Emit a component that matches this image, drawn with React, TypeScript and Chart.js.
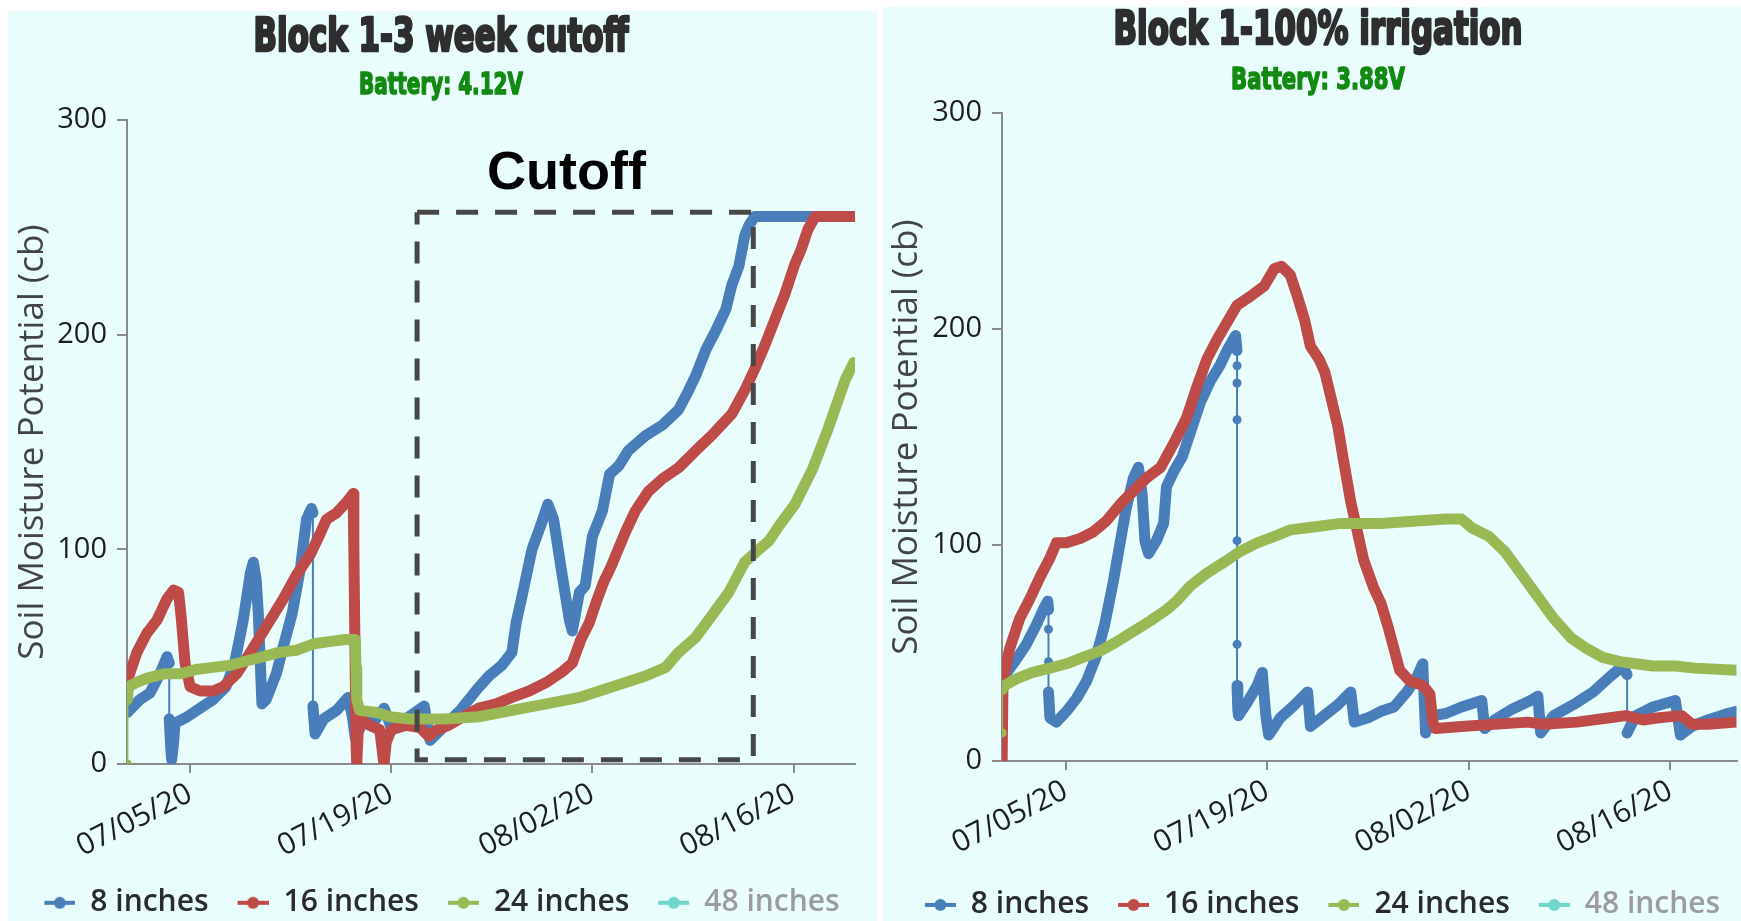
import React, { useEffect, useRef } from 'react';
import { Chart, registerables } from 'chart.js';

Chart.register(...registerables);

type Pt = [number, number];

// ---------- shared labels ----------
const SERIES_NAMES = ['8 inches', '16 inches', '24 inches', '48 inches'];
const SERIES_COLORS = ['#4a7ebb', '#be4b48', '#98b954', '#6fd6ca'];
const X_TICK_DAYS = [4, 18, 32, 46]; // days after 07/01/20
const Y_TITLE = 'Soil Moisture Potential (cb)';

// ---------- left chart: Block 1-3 week cutoff ----------
const leftTitle = 'Block 1-3 week cutoff';
const leftBattery = 'Battery: 4.12V';

const leftBlue: Pt[] = [
  [-0.36, 24], [0.5, 30], [1.2, 33], [1.9, 42], [2.4, 50], [2.55, 47], [2.55, 21], [2.65, 8], [2.72, 2],
  [2.85, 10], [2.95, 19], [3.8, 22], [4.7, 26], [5.6, 30], [6.5, 36], [7.1, 47], [7.7, 67], [8.2, 89],
  [8.4, 94], [8.6, 86], [8.75, 70], [8.9, 45], [9.0, 28], [9.3, 30], [10.0, 42], [10.5, 55], [11.1, 70],
  [11.7, 92], [12.1, 114], [12.45, 119], [12.55, 117], [12.55, 27], [12.7, 14], [13.3, 21], [14.2, 25],
  [15.0, 31], [15.3, 22], [15.5, 12], [16.2, 22], [16.6, 18], [17.5, 26], [18.0, 17], [19.0, 21],
  [20.3, 27], [20.7, 11], [21.6, 17], [22.8, 25], [24.0, 35], [24.8, 41], [25.7, 46], [26.4, 52],
  [26.7, 66], [27.1, 78], [27.8, 100], [28.4, 111], [28.9, 121], [29.3, 114], [29.9, 88], [30.4, 67],
  [30.6, 62], [31.1, 80], [31.5, 83], [32.0, 106], [32.7, 118], [33.2, 135], [33.85, 139], [34.5, 146],
  [35.7, 153], [36.9, 158], [38.0, 165], [38.7, 174], [39.2, 181], [39.9, 193], [40.6, 202], [41.3, 212],
  [41.7, 223], [42.2, 232], [42.6, 246], [42.9, 251], [43.3, 255], [50.2, 255],
];

const leftRed: Pt[] = [
  [-0.36, 39], [0.3, 52], [1.0, 61], [1.7, 67], [2.4, 77], [2.85, 81], [3.2, 80], [3.4, 67], [3.65, 47],
  [4.0, 36], [4.7, 34], [5.6, 34], [6.3, 36], [7.25, 42], [8.2, 52], [9.3, 64], [10.5, 77], [11.4, 88],
  [12.4, 98], [13.1, 108], [13.5, 114], [14.2, 117], [14.9, 122], [15.35, 126], [15.4, 100], [15.45, 70],
  [15.5, 40], [15.55, 10], [15.6, 0], [15.7, 15], [15.9, 21], [16.5, 18], [17.2, 16], [17.4, 5], [17.5, 0],
  [17.65, 10], [18.0, 16], [19.0, 18], [20.0, 17], [20.6, 13], [21.2, 16], [22.0, 18], [23.0, 22],
  [24.1, 26], [25.3, 28], [26.4, 31], [27.6, 34], [28.8, 38], [29.9, 43], [30.6, 47], [31.2, 58],
  [31.8, 66], [32.3, 76], [32.8, 85], [33.3, 92], [33.8, 100], [34.3, 108], [35.0, 118], [35.9, 127],
  [36.9, 133], [38.0, 138], [39.2, 146], [40.3, 153], [41.7, 163], [42.6, 174], [43.3, 184], [44.0, 195],
  [44.7, 207], [45.4, 219], [46.1, 233], [46.55, 240], [47.0, 249], [47.5, 255], [50.2, 255],
];

const leftGreen: Pt[] = [
  [-0.36, 0], [-0.36, 30], [-0.3, 36], [0.3, 38], [1.0, 40], [2.2, 42], [3.3, 42], [4.4, 44], [5.6, 45],
  [6.8, 46], [7.9, 48], [9.1, 50], [10.2, 52], [11.4, 53], [12.6, 56], [13.7, 57], [14.8, 58], [15.5, 58],
  [15.55, 45], [15.6, 30], [15.8, 25], [17.0, 24], [17.9, 22], [19.3, 21], [20.5, 21], [21.7, 21],
  [24.1, 22], [26.4, 25], [28.8, 28], [31.1, 31], [33.4, 36], [35.7, 41], [37.1, 45], [38.0, 52],
  [39.2, 59], [40.3, 69], [41.5, 80], [42.6, 94], [43.6, 100], [44.3, 104], [45.0, 111], [46.1, 121],
  [47.3, 137], [48.4, 156], [49.6, 179], [50.2, 187],
];

const leftDeep: Pt[] = [];

// cutoff window (days after 07/01/20, cb)
const CUTOFF_START = 19.8;
const CUTOFF_END = 43.2;
const CUTOFF_TOP = 257;
const CUTOFF_BOTTOM = 2;
const CUTOFF_TEXT = 'Cutoff';
const CUTOFF_TEXT_AT: Pt = [30.2, 268];

// ---------- right chart: Block 1-100% irrigation ----------
const rightTitle = 'Block 1-100% irrigation';
const rightBattery = 'Battery: 3.88V';

const rightBlue: Pt[] = [
  [-0.42, 38], [0.56, 47], [1.26, 54], [1.95, 63], [2.5, 71], [2.75, 74], [2.8, 70], [2.8, 61], [2.8, 46],
  [2.8, 32], [2.9, 20], [3.35, 18], [4.05, 23], [4.75, 29], [5.45, 37], [6.1, 48], [6.7, 63], [7.3, 83],
  [7.8, 102], [8.2, 117], [8.7, 131], [9.05, 136], [9.3, 124], [9.5, 102], [9.75, 96], [10.3, 102],
  [10.8, 110], [11.0, 127], [11.5, 134], [12.1, 141], [12.65, 152], [13.35, 166], [14.05, 176],
  [14.7, 183], [15.2, 190], [15.8, 197], [15.9, 190], [15.9, 183], [15.9, 175], [15.9, 158], [15.9, 102],
  [15.9, 54], [15.9, 35], [15.95, 24], [16.0, 21], [16.6, 27], [17.3, 35], [17.65, 41], [17.9, 21],
  [18.1, 12], [18.9, 20], [19.9, 26], [20.8, 32], [21.0, 16], [21.95, 21], [22.9, 26], [23.8, 32],
  [24.05, 18], [25.0, 20], [25.9, 23], [26.8, 25], [27.7, 32], [28.4, 39], [28.8, 45], [29.0, 13],
  [29.5, 21], [30.4, 22], [31.5, 25], [32.9, 28], [33.1, 15], [33.8, 19], [35.0, 24], [36.3, 28],
  [36.8, 30], [37.0, 13], [37.9, 21], [39.5, 27], [40.65, 32], [41.8, 39], [42.7, 44], [43.0, 40],
  [43.0, 13], [43.6, 21], [44.8, 25], [46.35, 28], [46.7, 12], [47.5, 16], [48.6, 19], [50.0, 22],
  [50.6, 23],
];

const rightRed: Pt[] = [
  [-0.42, 0], [-0.36, 37], [0.1, 52], [0.8, 66], [1.5, 75], [2.2, 85], [2.9, 94], [3.35, 101], [4.05, 101],
  [5.0, 103], [5.9, 106], [6.8, 111], [7.8, 119], [8.7, 125], [9.6, 131], [10.6, 136], [11.5, 147],
  [12.4, 159], [13.1, 173], [13.8, 186], [14.5, 195], [15.2, 203], [15.9, 211], [16.8, 215], [17.8, 220],
  [18.5, 228], [19.0, 229], [19.6, 225], [20.1, 215], [20.6, 204], [21.0, 192], [21.6, 186], [22.0, 180],
  [22.4, 169], [22.9, 155], [23.3, 139], [23.8, 120], [24.3, 105], [24.7, 93], [25.4, 80], [25.9, 73],
  [26.4, 62], [26.8, 52], [27.2, 42], [27.9, 37], [28.8, 35], [29.3, 31], [29.5, 18], [29.7, 15],
  [31.5, 16], [33.8, 17], [36.1, 18], [37.2, 17], [39.5, 18], [41.8, 20], [42.9, 21], [44.1, 19],
  [45.2, 20], [46.8, 21], [47.5, 17], [48.6, 17], [50.6, 18],
];

const rightGreen: Pt[] = [
  [-0.42, 13], [-0.42, 33], [-0.25, 35], [0.56, 38], [1.7, 41], [2.9, 43], [4.05, 45], [5.2, 48],
  [6.4, 51], [7.5, 55], [8.7, 60], [9.9, 65], [11.0, 70], [11.7, 74], [12.65, 81], [13.8, 87], [15.0, 92],
  [16.1, 97], [17.3, 101], [18.5, 104], [19.6, 107], [20.8, 108], [22.0, 109], [23.1, 110], [24.3, 110],
  [25.9, 110], [28.1, 111], [30.4, 112], [31.5, 112], [32.2, 108], [33.4, 104], [34.5, 97], [35.6, 87],
  [36.8, 76], [37.9, 66], [39.1, 57], [40.2, 52], [41.3, 48], [42.5, 46], [43.6, 45], [44.8, 44],
  [46.35, 44], [47.7, 43], [50.6, 42],
];

const rightDeep: Pt[] = [];

// ---------- styling ----------
const PANEL_BG = '#e9fdfd';
const AXIS_COLOR = '#8a8a8a';
const SANS = "'Open Sans', 'Noto Sans', sans-serif";
const HEAD_FONT = "'DejaVu Sans Condensed', 'DejaVu Sans', sans-serif";
const LINE_W = 11;
const THIN_W = 2;

function fmtDay(d: number): string {
  const dt = new Date(Date.UTC(2020, 6, 1) + Math.round(d * 86400000));
  const mm = String(dt.getUTCMonth() + 1).padStart(2, '0');
  const dd = String(dt.getUTCDate()).padStart(2, '0');
  const yy = String(dt.getUTCFullYear()).slice(2);
  return `${mm}/${dd}/${yy}`;
}

function makeMarker(color: string): HTMLCanvasElement {
  const c = document.createElement('canvas');
  c.width = 52;
  c.height = 16;
  const g = c.getContext('2d')!;
  g.strokeStyle = color;
  g.lineWidth = 4;
  g.beginPath();
  g.moveTo(21, 8);
  g.lineTo(52, 8);
  g.stroke();
  g.fillStyle = color;
  g.beginPath();
  g.arc(36.5, 8, 6, 0, Math.PI * 2);
  g.fill();
  return c;
}

function seriesDataset(label: string, color: string, pts: Pt[], order: number) {
  const data = pts.map(([x, y]) => ({ x, y }));
  const jump = (i: number, j: number) =>
    j >= 0 && j < data.length && i >= 0 && i < data.length &&
    Math.abs(data[i].x - data[j].x) < 0.02 && Math.abs(data[i].y - data[j].y) > 3;
  return {
    label,
    data,
    order,
    borderColor: color,
    backgroundColor: color,
    borderWidth: LINE_W,
    borderJoinStyle: 'round',
    borderCapStyle: 'round',
    tension: 0,
    fill: false,
    pointRadius: (c: any) => (jump(c.dataIndex, c.dataIndex - 1) || jump(c.dataIndex, c.dataIndex + 1) ? 4.5 : 0),
    pointHoverRadius: 0,
    pointBorderWidth: 0,
    pointBackgroundColor: color,
    segment: {
      borderWidth: (c: any) => (jump(c.p0DataIndex, c.p1DataIndex) ? THIN_W : LINE_W),
    },
  };
}

type HeadLine = { text: string; x: number; y: number; font: string; color: string; width: number; stroke: number };

function headerPlugin(lines: HeadLine[]) {
  return {
    id: 'header',
    afterDraw(chart: any) {
      const { ctx } = chart;
      for (const l of lines) {
        ctx.save();
        ctx.font = l.font;
        ctx.fillStyle = l.color;
        ctx.strokeStyle = l.color;
        ctx.lineJoin = 'round';
        ctx.textAlign = 'center';
        ctx.textBaseline = 'alphabetic';
        const w = ctx.measureText(l.text).width + l.stroke;
        ctx.translate(l.x, l.y);
        ctx.scale(l.width / w, 1);
        ctx.fillText(l.text, 0, 0);
        if (l.stroke > 0) {
          ctx.lineWidth = l.stroke;
          ctx.strokeText(l.text, 0, 0);
        }
        ctx.restore();
      }
    },
  };
}

function cutoffTextPlugin() {
  return {
    id: 'cutoffText',
    afterDatasetsDraw(chart: any) {
      const { ctx, scales } = chart;
      ctx.save();
      ctx.font = "bold 54px 'Liberation Sans', Arial, sans-serif";
      ctx.fillStyle = '#000';
      ctx.textAlign = 'center';
      ctx.textBaseline = 'alphabetic';
      ctx.fillText(CUTOFF_TEXT, scales.x.getPixelForValue(CUTOFF_TEXT_AT[0]), scales.y.getPixelForValue(CUTOFF_TEXT_AT[1]));
      ctx.restore();
    },
  };
}

type Spec = {
  series: Pt[][];
  xMin: number;
  xMax: number;
  padding: { top: number; left: number; right: number; bottom: number };
  yWidth: number;
  xHeight: number;
  yTitlePad: number;
  head: HeadLine[];
  cutoff: boolean;
};

function buildConfig(spec: Spec) {
  const markers = SERIES_COLORS.map(makeMarker);
  const orders = [3, 2, 1, 4];
  const datasets: any[] = spec.series.map((pts, i) => seriesDataset(SERIES_NAMES[i], SERIES_COLORS[i], pts, orders[i]));
  if (spec.cutoff) {
    datasets.push({
      label: 'cutoff window',
      data: [
        { x: CUTOFF_START, y: CUTOFF_TOP },
        { x: CUTOFF_END, y: CUTOFF_TOP },
        { x: CUTOFF_END, y: CUTOFF_BOTTOM },
        { x: CUTOFF_START, y: CUTOFF_BOTTOM },
        { x: CUTOFF_START, y: CUTOFF_TOP },
      ],
      order: 0,
      borderColor: '#474747',
      borderWidth: 5,
      borderDash: [22, 17],
      pointRadius: 0,
      pointHoverRadius: 0,
      tension: 0,
      fill: false,
    });
  }
  const plugins: any[] = [headerPlugin(spec.head)];
  if (spec.cutoff) plugins.push(cutoffTextPlugin());
  return {
    type: 'line' as const,
    data: { datasets },
    plugins,
    options: {
      responsive: false,
      animation: false,
      events: [],
      layout: { padding: spec.padding },
      scales: {
        x: {
          type: 'linear',
          min: spec.xMin,
          max: spec.xMax,
          afterBuildTicks: (s: any) => {
            s.ticks = X_TICK_DAYS.map((v) => ({ value: v }));
          },
          afterFit: (s: any) => {
            s.height = spec.xHeight;
          },
          ticks: {
            autoSkip: false,
            minRotation: 27,
            maxRotation: 27,
            padding: 3,
            color: '#1e1e1e',
            font: { family: SANS, size: 30 },
            callback: (v: any) => fmtDay(Number(v)),
          },
          grid: { display: true, drawOnChartArea: false, drawTicks: true, tickLength: 9, color: AXIS_COLOR, lineWidth: 2 },
          border: { display: true, color: AXIS_COLOR, width: 2 },
        },
        y: {
          type: 'linear',
          min: 0,
          max: 300,
          afterFit: (s: any) => {
            s.width = spec.yWidth;
          },
          ticks: {
            stepSize: 100,
            padding: 10,
            color: '#1e1e1e',
            font: { family: SANS, size: 29 },
          },
          title: {
            display: true,
            text: Y_TITLE,
            color: '#444',
            font: { family: SANS, size: 35 },
            padding: { top: spec.yTitlePad, bottom: 0 },
          },
          grid: { display: true, drawOnChartArea: false, drawTicks: true, tickLength: 10, color: AXIS_COLOR, lineWidth: 2 },
          border: { display: true, color: AXIS_COLOR, width: 2 },
        },
      },
      plugins: {
        title: { display: false },
        tooltip: { enabled: false },
        legend: {
          display: true,
          position: 'bottom',
          align: 'center',
          labels: {
            usePointStyle: true,
            pointStyleWidth: 52,
            padding: 8,
            color: '#333',
            font: { family: SANS, size: 30, weight: '600' },
            filter: (item: any) => item.datasetIndex < 4,
            sort: (a: any, b: any) => a.datasetIndex - b.datasetIndex,
            generateLabels: (chart: any) =>
              (Chart.defaults.plugins.legend.labels.generateLabels as any)(chart).map((item: any) => ({
                ...item,
                hidden: false,
                pointStyle: markers[item.datasetIndex] || 'line',
                fontColor: item.datasetIndex === 3 ? '#9c9c9c' : '#2b2b2b',
                lineWidth: 0,
              })),
          },
        },
      },
    },
  };
}

function ChartPanel({ spec, box }: { spec: Spec; box: { left: number; top: number; width: number; height: number } }) {
  const ref = useRef<HTMLCanvasElement | null>(null);
  useEffect(() => {
    if (!ref.current) return;
    const chart = new Chart(ref.current, buildConfig(spec) as any);
    return () => chart.destroy();
  }, []);
  return (
    <div style={{ position: 'absolute', left: box.left, top: box.top, width: box.width, height: box.height, background: PANEL_BG }}>
      <canvas ref={ref} width={box.width} height={box.height} style={{ display: 'block', width: box.width, height: box.height }} />
    </div>
  );
}

const LEFT_BOX = { left: 8, top: 11, width: 869, height: 910 };
const RIGHT_BOX = { left: 883, top: 7, width: 858, height: 914 };

const leftSpec: Spec = {
  series: [leftBlue, leftRed, leftGreen, leftDeep],
  xMin: -0.39,
  xMax: 50.28,
  padding: { top: 109, left: 0, right: 22, bottom: -6.8 },
  yWidth: 119,
  xHeight: 115.8,
  yTitlePad: 4,
  head: [
    { text: leftTitle, x: 433, y: 40, font: `bold 46px ${HEAD_FONT}`, color: '#2e2e2e', width: 377, stroke: 2.6 },
    { text: leftBattery, x: 433, y: 83, font: `bold 30px ${HEAD_FONT}`, color: '#128a12', width: 165, stroke: 1.5 },
  ],
  cutoff: true,
};

const rightSpec: Spec = {
  series: [rightBlue, rightRed, rightGreen, rightDeep],
  xMin: -0.43,
  xMax: 50.6,
  padding: { top: 106, left: 0, right: 0, bottom: -8.9 },
  yWidth: 119,
  xHeight: 120.9,
  yTitlePad: 3,
  head: [
    { text: rightTitle, x: 435, y: 37, font: `bold 46px ${HEAD_FONT}`, color: '#2e2e2e', width: 411, stroke: 2.6 },
    { text: rightBattery, x: 435, y: 82, font: `bold 30px ${HEAD_FONT}`, color: '#128a12', width: 175, stroke: 1.5 },
  ],
  cutoff: false,
};

export default function App() {
  return (
    <div style={{ position: 'fixed', left: 0, top: 0, width: 1741, height: 921, background: '#fff', overflow: 'hidden' }}>
      <ChartPanel spec={leftSpec} box={LEFT_BOX} />
      <ChartPanel spec={rightSpec} box={RIGHT_BOX} />
    </div>
  );
}
